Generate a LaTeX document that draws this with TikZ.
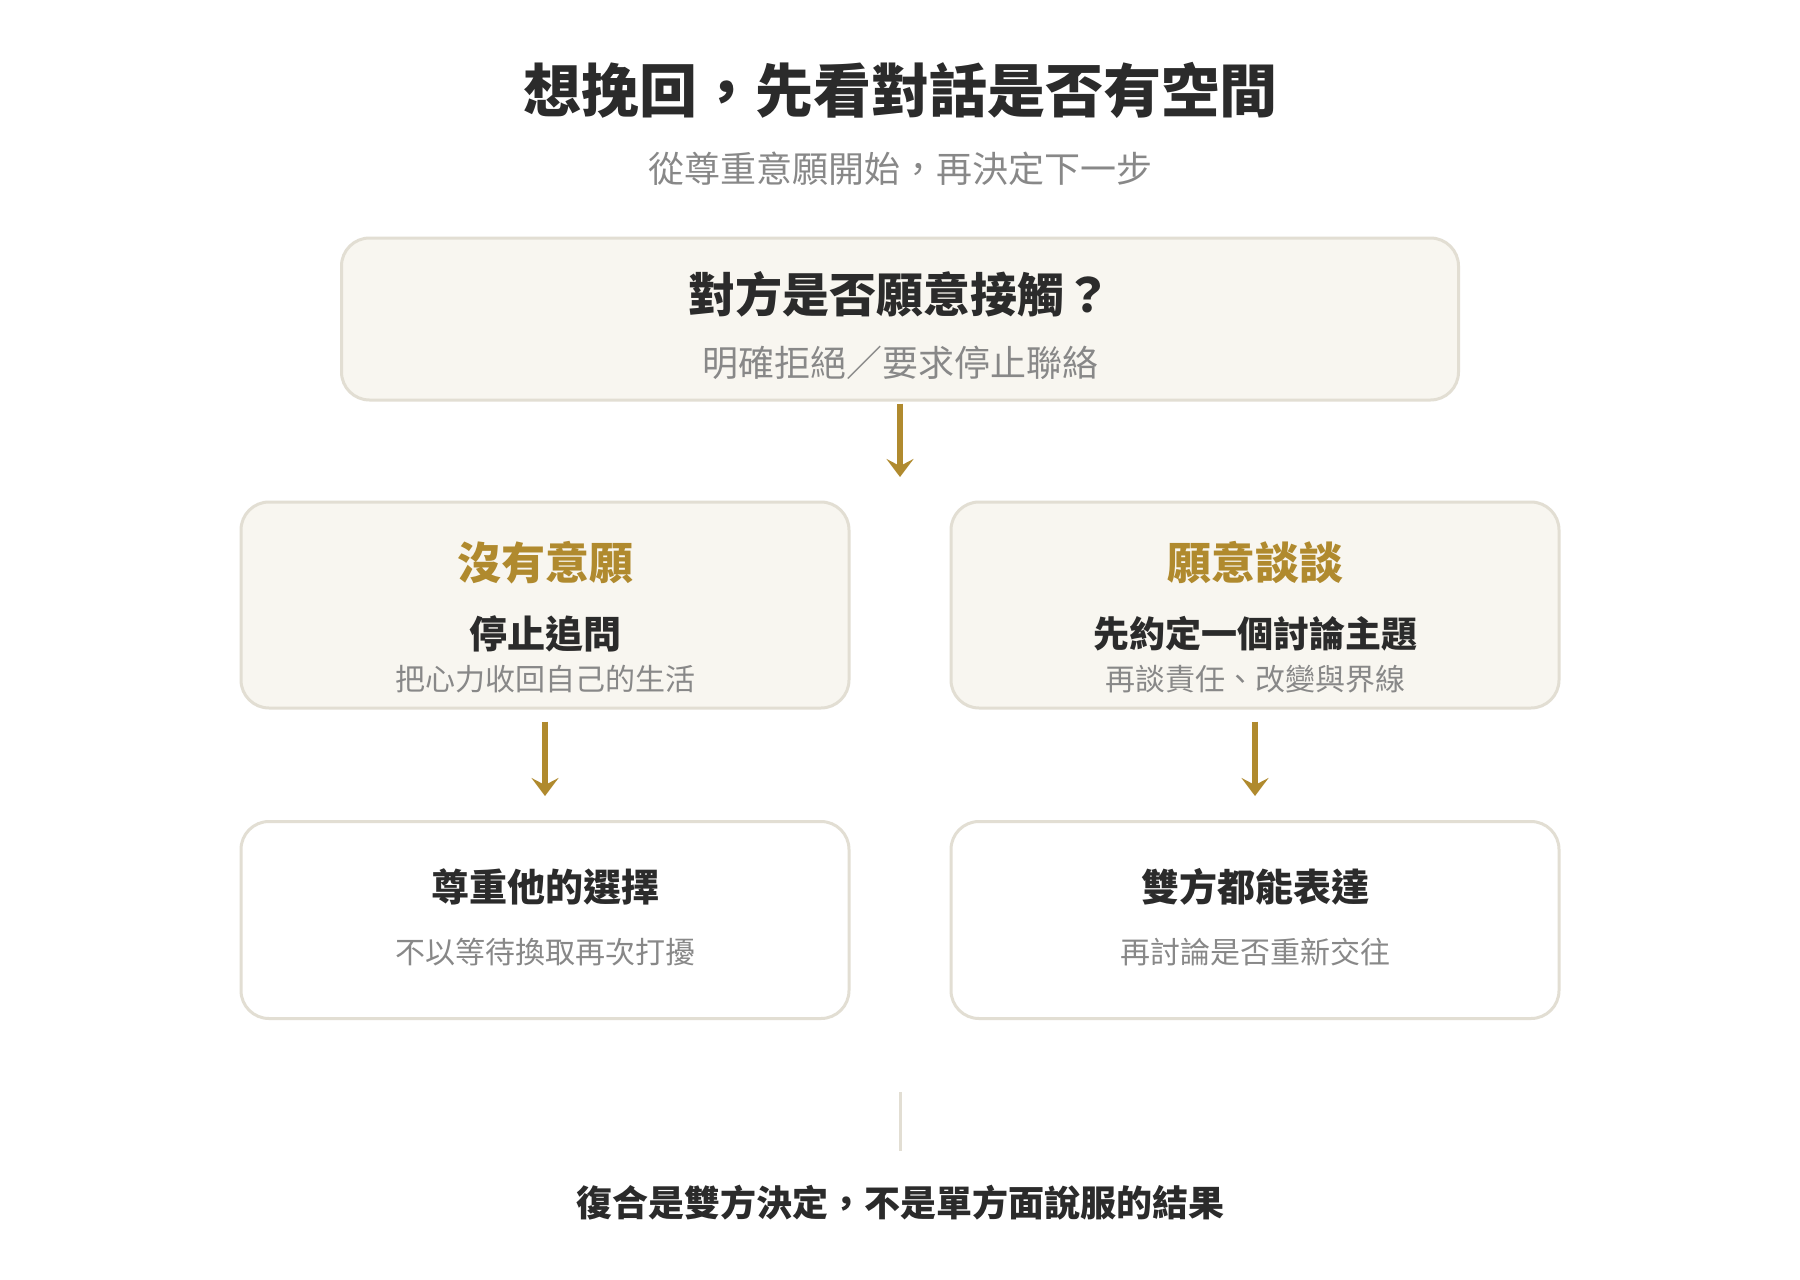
\documentclass[tikz,border=0pt]{standalone}
\usepackage{fontspec}
\setmainfont{Noto Sans CJK TC}
\usetikzlibrary{arrows.meta}
\definecolor{boxfill}{HTML}{F8F6F0}
\definecolor{boxline}{HTML}{E2DED3}
\definecolor{gold}{HTML}{B08A2E}
\definecolor{ink}{HTML}{2B2B2B}
\definecolor{muted}{HTML}{888888}
\tikzset{
  card/.style={draw=boxline, line width=3pt, rounded corners=28pt, inner sep=0pt},
  cardfill/.style={card, fill=boxfill},
  cardwhite/.style={card, fill=white},
  flowarrow/.style={draw=gold, line width=6pt, -{Stealth[length=18pt,width=27pt,inset=7pt]}},
  headtxt/.style={text=ink, font=\fontsize{#1}{#1}\selectfont\bfseries},
  subtxt/.style={text=muted, font=\fontsize{#1}{#1}\selectfont},
  goldtxt/.style={text=gold, font=\fontsize{#1}{#1}\selectfont\bfseries},
}
\begin{document}
\begin{tikzpicture}[x=1pt,y=-1pt]
\path[use as bounding box, fill=white] (0,0) rectangle (1800,1280);

% title
\node[headtxt=58] (title) at (900,90) {想挽回，先看對話是否有空間};
\node[subtxt=36] (subtitle) at (900,169) {從尊重意願開始，再決定下一步};

% boxes
\node[cardfill, minimum width=1117pt, minimum height=162pt] (top) at (900,319) {};
\node[cardfill, minimum width=608pt, minimum height=206pt] (midL) at (545,605) {};
\node[cardfill, minimum width=608pt, minimum height=206pt] (midR) at (1255,605) {};
\node[cardwhite, minimum width=608pt, minimum height=197pt] (botL) at (545,920) {};
\node[cardwhite, minimum width=608pt, minimum height=197pt] (botR) at (1255,920) {};

% top box text
\node[headtxt=47] (q) at (900,294) {對方是否願意接觸？};
\node[subtxt=36] (qs) at (900,363) {明確拒絕／要求停止聯絡};

% middle left
\node[goldtxt=44] (nl) at (545,563) {沒有意願};
\node[headtxt=38] (nl2) at (545,634) {停止追問};
\node[subtxt=30] (nl3) at (545,679) {把心力收回自己的生活};

% middle right
\node[goldtxt=44] (nr) at (1255,563) {願意談談};
\node[headtxt=36] (nr2) at (1255,634) {先約定一個討論主題};
\node[subtxt=30] (nr3) at (1255,679) {再談責任、改變與界線};

% bottom left
\node[headtxt=38] (bl) at (545,887) {尊重他的選擇};
\node[subtxt=30] (bl2) at (545,952) {不以等待換取再次打擾};

% bottom right
\node[headtxt=38] (br) at (1255,887) {雙方都能表達};
\node[subtxt=30] (br2) at (1255,952) {再討論是否重新交往};

% arrows
\coordinate (a1end) at (900,477);
\draw[flowarrow, shorten <=2pt] (top.south) -- (a1end);
\draw[flowarrow, shorten <=12pt, shorten >=24pt] (midL.south) -- (botL.north);
\draw[flowarrow, shorten <=12pt, shorten >=24pt] (midR.south) -- (botR.north);

% divider
\coordinate (d1) at (900,1092);
\coordinate (d2) at (900,1151);
\draw[boxline, line width=3pt] (d1) -- (d2);

% conclusion
\node[headtxt=36] (concl) at (900,1203) {復合是雙方決定，不是單方面說服的結果};
\end{tikzpicture}
\end{document}
